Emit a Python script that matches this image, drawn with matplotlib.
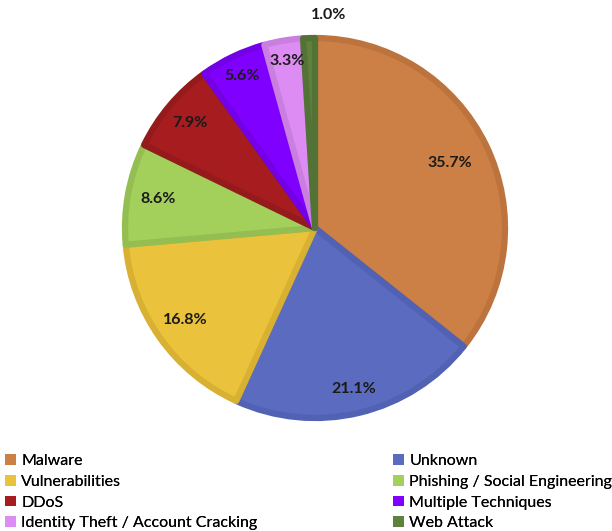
import numpy as np
import matplotlib
matplotlib.use("Agg")
import matplotlib.pyplot as plt
from matplotlib.patches import Patch

# Dati
categorie = ["Malware", "Unknown", "Vulnerabilities", "Phishing / Social Engineering",
             "DDoS", "Multiple Techniques", "Identity Theft / Account Cracking", "Web Attack"]
valori = [35.7, 21.1, 16.8, 8.6, 7.9, 5.6, 3.3, 1.0]
colori = ["#CD8045", "#5B6BBF", "#EBC23C", "#A3CF5B", "#A61C1F", "#8000FF", "#DC8CF2", "#5E823D"]
bordi = ["#BC733D", "#5161B3", "#D8B032", "#94BE52", "#941A1C", "#7300E6", "#C97EE0", "#527335"]
etichette = ["35.7%", "21.1%", "16.8%", "8.6%", "7.9%", "5.6%", "3.3%", "1.0%"]

plt.rcParams['font.family'] = ['Lato', 'DejaVu Sans']

fig = plt.figure(figsize=(6.12, 5.31), dpi=100)
ax = fig.add_axes([0, 0, 1, 1])

cx, cy, r = 315, 303, 192
wedges, _ = ax.pie(valori, colors=colori, startangle=90, counterclock=False,
                   center=(cx, cy), radius=r - 2,
                   wedgeprops=dict(linewidth=4.5, joinstyle='round'))
for w, b in zip(wedges, bordi):
    w.set_edgecolor(b)

ax.set_xlim(0, 612)
ax.set_ylim(0, 531)
ax.set_aspect('equal')
ax.axis('off')

# posizione delle etichette (frazione del raggio)
dist = [0.78, 0.86, 0.83, 0.83, 0.85, 0.88, 0.88, 1.11]
for w, testo, d in zip(wedges, etichette, dist):
    ang = np.deg2rad((w.theta1 + w.theta2) / 2)
    x = cx + d * r * np.cos(ang)
    y = cy + d * r * np.sin(ang)
    if testo == "1.0%":
        x += 20
    ax.text(x, y, testo, ha='center', va='center', fontsize=11.5,
            fontweight='bold', color='#1a1a1a')

# Legenda su due colonne
sinistra = [0, 2, 4, 6]
destra = [1, 3, 5, 7]
for idx, xpos in ((sinistra, 2 / 612), (destra, 390 / 612)):
    handles = [Patch(facecolor=colori[i], edgecolor='none') for i in idx]
    leg = fig.legend(handles, [categorie[i] for i in idx], loc='upper left',
                     bbox_to_anchor=(xpos, 1 - 451 / 531), frameon=False,
                     fontsize=11.5, handlelength=0.65, handleheight=0.65,
                     handletextpad=0.35, labelspacing=0.42, borderaxespad=0,
                     borderpad=0.2)
    fig.add_artist(leg)

fig.savefig("out.png", dpi=100)
